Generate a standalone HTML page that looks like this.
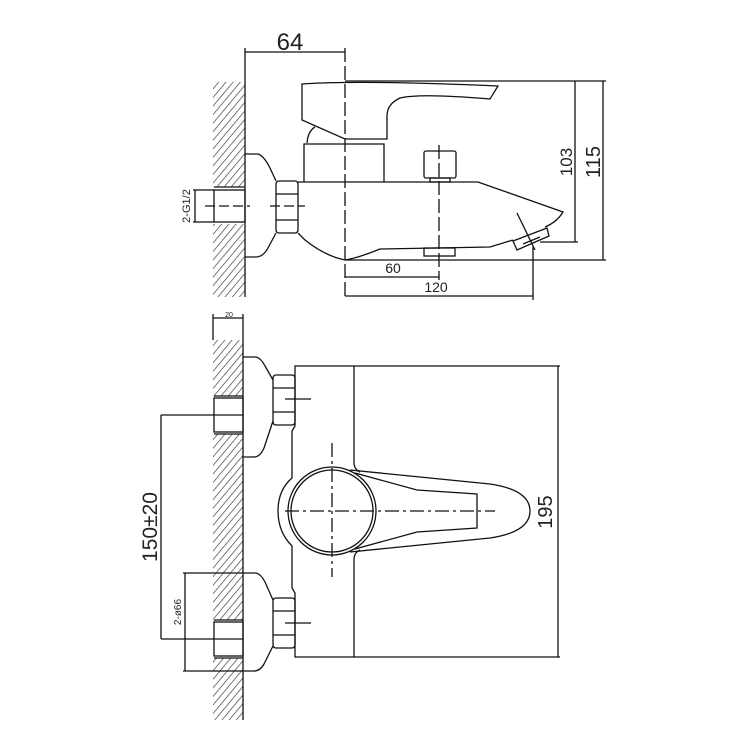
<!DOCTYPE html>
<html><head><meta charset="utf-8"><style>
html,body{margin:0;padding:0;background:#fff;}
svg{display:block;}
text{font-family:"Liberation Sans",sans-serif;fill:#222;}
</style></head><body>
<svg width="750" height="750" viewBox="0 0 750 750" xmlns="http://www.w3.org/2000/svg">
<defs>
<pattern id="h" patternUnits="userSpaceOnUse" width="5.5" height="5.5" patternTransform="rotate(40)">
<line x1="0" y1="0" x2="0" y2="5.5" stroke="#333" stroke-width="1.3"/>
</pattern>
</defs>
<g fill="none" stroke="#111" stroke-width="1.3">
<!-- TOP VIEW -->
<rect x="213" y="82" width="32" height="105" fill="url(#h)" stroke="none"/>
<rect x="213" y="224" width="32" height="73" fill="url(#h)" stroke="none"/>
<line x1="245" y1="48" x2="245" y2="297"/>
<line x1="245" y1="52" x2="345" y2="52"/>
<line x1="345" y1="48" x2="345" y2="300" stroke-dasharray="14,4"/>
<rect x="214" y="190" width="31" height="32"/>
<line x1="214" y1="187" x2="245" y2="187"/>
<line x1="205" y1="206" x2="250" y2="206" stroke-dasharray="10,4"/>
<line x1="193" y1="190" x2="214" y2="190"/>
<line x1="193" y1="222" x2="214" y2="222"/>
<line x1="195" y1="190" x2="195" y2="222"/>
<path d="M245,154 L258,154 Q264,156 270,168 L276,181 M276,233 L268,248 Q263,257 256,257 L245,257"/>
<rect x="276" y="181" width="22" height="52" rx="3"/>
<line x1="276" y1="194" x2="298" y2="194"/>
<line x1="276" y1="220" x2="298" y2="220"/>
<line x1="270" y1="206" x2="305" y2="206" stroke-dasharray="10,4"/>
<path d="M298,182 L478,182 L563,212 Q557,222 545,227"/>
<path d="M298,233 L305,240 Q325,256 345,260 Q358,258 380,249 L490,247 L513,240"/>
<path d="M513,241 L547,228 L549,236 L517,250 Z"/>
<path d="M523,244 L540,237"/>
<line x1="517" y1="213" x2="535" y2="250"/>
<path d="M304,182 L304,144 L384,144 L384,182"/>
<path d="M307,143 Q308,131 315,127"/>
<path d="M302,84 Q360,80 498,86 L490,99 Q420,93 400,98 Q387,104 387,116 L387,139 L345,139 L302,120 Z"/>
<rect x="424" y="151" width="32" height="27" rx="2"/>
<rect x="430" y="178" width="20" height="4"/>
<rect x="424" y="248" width="31" height="8"/>
<line x1="439" y1="145" x2="439" y2="280" stroke-dasharray="14,4"/>
<line x1="345" y1="81" x2="606" y2="81"/>
<line x1="540" y1="242" x2="578" y2="242"/>
<line x1="575" y1="81" x2="575" y2="242"/>
<line x1="345" y1="260" x2="606" y2="260"/>
<line x1="603" y1="81" x2="603" y2="260"/>
<line x1="345" y1="277" x2="439" y2="277"/>
<line x1="345" y1="296" x2="533" y2="296"/>
<line x1="533" y1="247" x2="533" y2="300"/>

<!-- BOTTOM VIEW -->
<line x1="213" y1="314" x2="213" y2="340"/>
<line x1="213" y1="318" x2="243" y2="318"/>
<rect x="213" y="340" width="30" height="56" fill="url(#h)" stroke="none"/>
<rect x="213" y="434" width="30" height="186" fill="url(#h)" stroke="none"/>
<rect x="213" y="658" width="30" height="62" fill="url(#h)" stroke="none"/>
<line x1="243" y1="314" x2="243" y2="720"/>
<rect x="214" y="398" width="29" height="34"/>
<line x1="214" y1="396" x2="243" y2="396"/>
<line x1="214" y1="434" x2="243" y2="434"/>
<rect x="214" y="622" width="29" height="34"/>
<line x1="214" y1="620" x2="243" y2="620"/>
<line x1="214" y1="658" x2="243" y2="658"/>
<line x1="161" y1="415" x2="243" y2="415" />
<line x1="161" y1="639" x2="243" y2="639"/>
<line x1="161" y1="415" x2="161" y2="639"/>
<line x1="183" y1="573" x2="243" y2="573"/>
<line x1="183" y1="671" x2="243" y2="671"/>
<line x1="185" y1="573" x2="185" y2="671"/>
<path d="M243,357 L256,357 Q261,358 265,366 L273,380 M273,421 L264,448 Q260,457 254,457 L243,457"/>
<path d="M243,573 L256,573 Q261,574 265,582 L273,600 M273,646 L264,664 Q260,671 254,671 L243,671"/>
<rect x="273" y="375" width="22" height="50" rx="3"/>
<line x1="273" y1="388" x2="295" y2="388"/>
<line x1="273" y1="412" x2="295" y2="412"/>
<line x1="285" y1="399" x2="311" y2="399"/>
<rect x="273" y="598" width="22" height="50" rx="3"/>
<line x1="273" y1="611" x2="295" y2="611"/>
<line x1="273" y1="635" x2="295" y2="635"/>
<line x1="285" y1="623" x2="311" y2="623"/>
<path d="M560,366 L295,366 L295,426 L292,431 L292,478 Q278,490 278,511 Q278,532 292,546 L292,588 L295,593 L295,657 L560,657"/>
<path d="M354,366 L354,464 Q355,470 360,472 M360,550 Q355,552 354,558 L354,657"/>
<line x1="558" y1="366" x2="558" y2="657"/>
<circle cx="332" cy="511" r="44"/>
<circle cx="332" cy="511" r="41"/>
<path d="M350,470 L490,484 Q530,490 530,511 Q530,532 490,538 L350,552"/>
<path d="M355,473 L417,490 L477,494 L477,528 L417,532 L355,549"/>
<line x1="285" y1="511" x2="495" y2="511" stroke-dasharray="14,4,3,4"/>
<line x1="332" y1="443" x2="332" y2="577" stroke-dasharray="14,4,3,4"/>
</g>
<text x="290" y="50" font-size="24" text-anchor="middle">64</text>
<text x="393" y="273" font-size="14" text-anchor="middle">60</text>
<text x="436" y="292" font-size="14" text-anchor="middle">120</text>
<text transform="translate(572,162) rotate(-90)" font-size="17" text-anchor="middle">103</text>
<text transform="translate(600,162) rotate(-90)" font-size="20" text-anchor="middle">115</text>
<text transform="translate(190,206) rotate(-90)" font-size="11" text-anchor="middle">2-G1/2</text>
<text x="229" y="317" font-size="7" text-anchor="middle">20</text>
<text transform="translate(157,527) rotate(-90)" font-size="21" text-anchor="middle">150±20</text>
<text transform="translate(181,612) rotate(-90)" font-size="10" text-anchor="middle">2-ø66</text>
<text transform="translate(552,512) rotate(-90)" font-size="20" text-anchor="middle">195</text>
</svg>
</body></html>
